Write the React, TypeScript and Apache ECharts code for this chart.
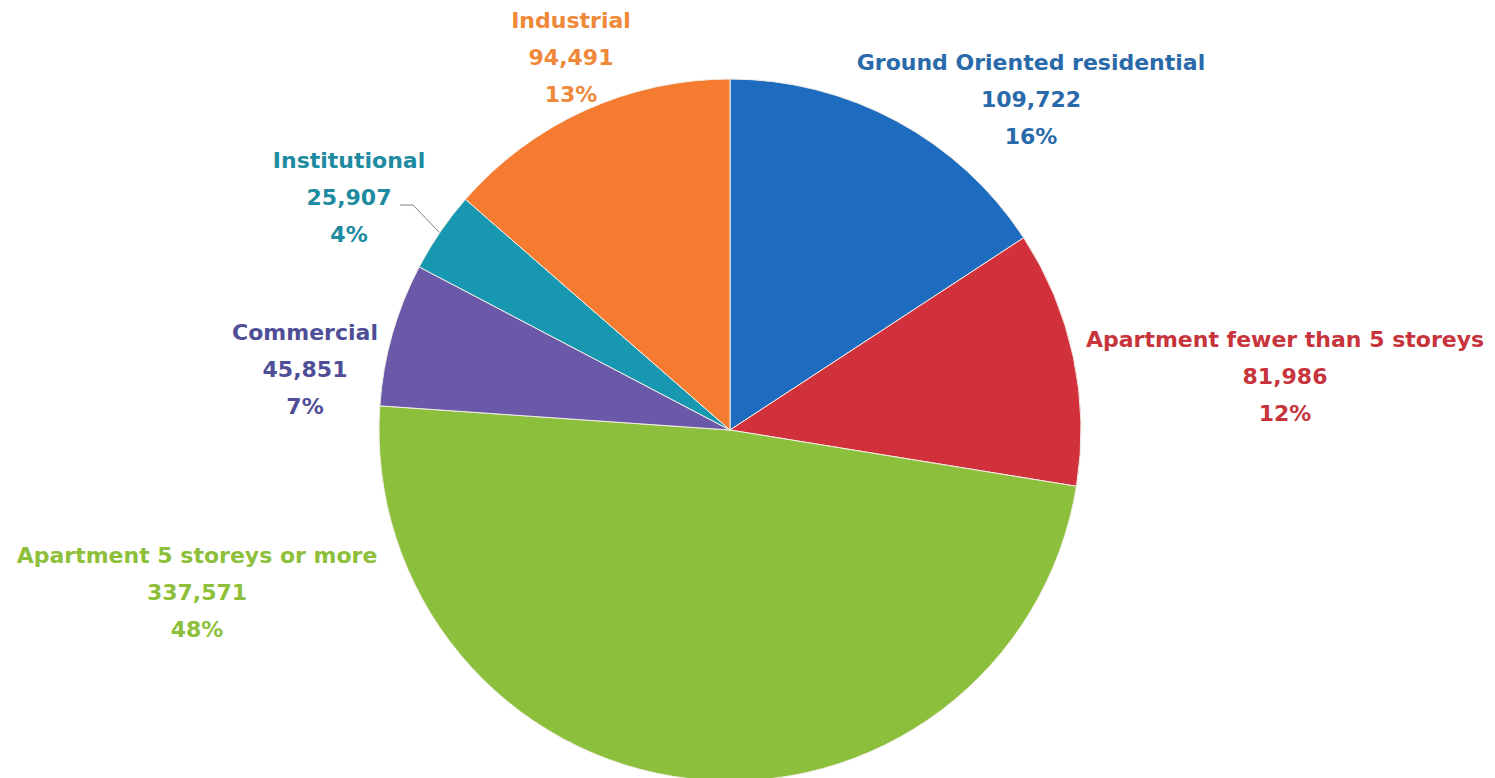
import React, { useEffect, useRef } from "react";
import * as echarts from "echarts";

const categories = [
  "Ground Oriented residential",
  "Apartment fewer than 5 storeys",
  "Apartment 5 storeys or more",
  "Commercial",
  "Institutional",
  "Industrial",
];
const values = [109722, 81986, 337571, 45851, 25907, 94491];
const percentLabels = ["16%", "12%", "48%", "7%", "4%", "13%"];
const sliceColors = ["#1D6CC0", "#D0313A", "#8CC03C", "#6A58A8", "#1898B0", "#F47B30"];
const textColors = ["#2A6AAA", "#C8343C", "#8DBF3A", "#4F4E97", "#1E8BA0", "#F0883A"];

// label block centres (layout only)
const labelPos: [number, number][] = [
  [1031, 99],
  [1285, 376],
  [197, 592],
  [305, 369],
  [349, 197],
  [571, 57],
];
// leader line for the Institutional label (layout only)
const institutionalLeader: [number, number][] = [
  [400, 205],
  [413, 205],
  [440, 233],
];

const fmt = (v: number) => v.toLocaleString("en-US");

export default function App() {
  const ref = useRef<HTMLDivElement>(null);
  useEffect(() => {
    if (!ref.current) return;
    const chart = echarts.init(ref.current, undefined, { renderer: "svg" });
    chart.setOption({
      animation: false,
      backgroundColor: "#ffffff",
      series: [
        {
          type: "pie",
          center: [730, 430],
          radius: 351,
          startAngle: 90,
          clockwise: true,
          avoidLabelOverlap: false,
          itemStyle: { borderColor: "#f3ede6", borderWidth: 1 },
          label: {
            show: true,
            fontFamily: "DejaVu Sans",
            fontWeight: "bold",
            fontSize: 22,
            lineHeight: 37,
            align: "center",
            formatter: (p: any) => `${p.name}\n${fmt(p.value)}\n${percentLabels[p.dataIndex]}`,
          },
          labelLine: { show: false },
          labelLayout: (p: any) => {
            const i = p.dataIndex;
            const out: any = {
              x: labelPos[i][0],
              y: labelPos[i][1],
              align: "center",
              verticalAlign: "middle",
            };
            if (i === 4) {
              out.labelLinePoints = institutionalLeader;
            }
            return out;
          },
          data: categories.map((c, i) => ({
            name: c,
            value: values[i],
            itemStyle: { color: sliceColors[i] },
            label: { color: textColors[i] },
            labelLine:
              i === 4
                ? { show: true, length: 10, length2: 10, lineStyle: { color: "#808080", width: 1 } }
                : { show: false },
          })),
        },
      ],
    });
    return () => chart.dispose();
  }, []);
  return (
    <div
      ref={ref}
      style={{ position: "fixed", left: 0, top: 0, width: 1495, height: 778 }}
    />
  );
}
